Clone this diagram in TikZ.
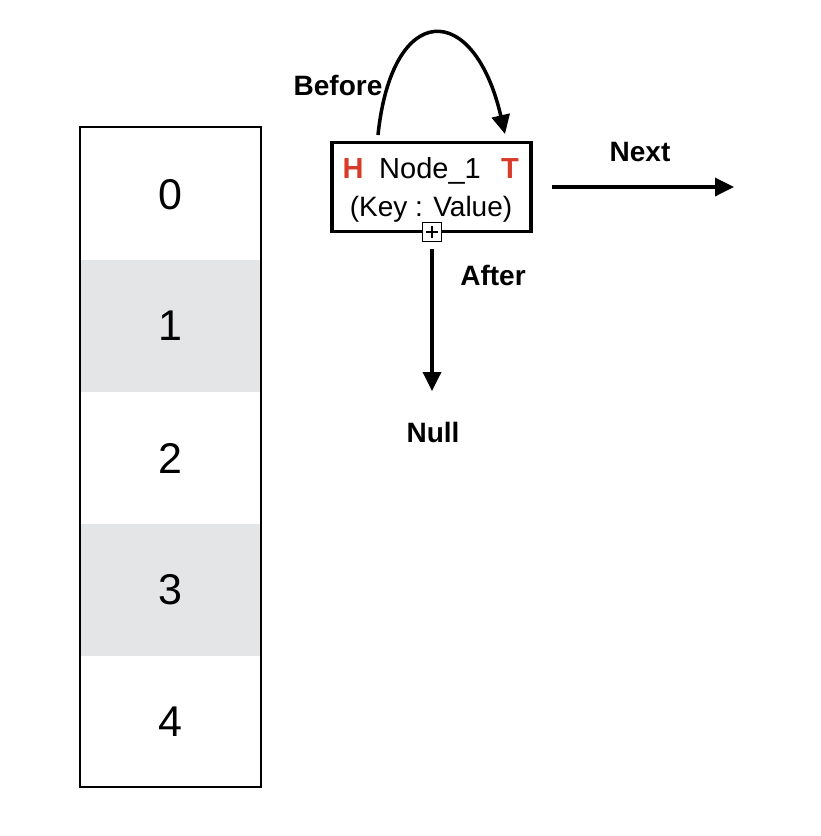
\documentclass[tikz,border=0pt]{standalone}
\usepackage{fontspec}
\setmainfont{Liberation Sans}
\usetikzlibrary{arrows.meta,calc}
\definecolor{cellgray}{HTML}{E4E5E7}
\definecolor{hred}{HTML}{D83B2A}
\begin{document}
\begin{tikzpicture}[x=1pt,y=-1pt,
  cell/.style={minimum width=181pt,minimum height=132pt,inner sep=0pt,font=\fontsize{43}{48}\selectfont},
  lbl/.style={font=\fontsize{28}{32}\selectfont\bfseries},
  arr/.style={line width=3.5pt,-{Triangle[length=19pt,width=18pt]}}]
\useasboundingbox (0,0) rectangle (820,836);
% hash table cells
\node[cell] (c0) at (170.5,195) {0};
\node[cell,fill=cellgray] (c1) at (170.5,326) {1};
\node[cell] (c2) at (170.5,458) {2};
\node[cell,fill=cellgray] (c3) at (170.5,590) {3};
\node[cell] (c4) at (170.5,722) {4};
\draw[line width=2pt] (80,127) rectangle (261,787);
% node box
\node[draw,line width=3.5pt,minimum width=199pt,minimum height=89pt,inner sep=0pt] (box) at (431.5,187) {};
\node[font=\fontsize{29}{33}\selectfont] (name) at (430,171) {Node\_1};
\node[font=\fontsize{29}{33}\selectfont\bfseries,text=hred] (H) at (353,169) {H};
\node[font=\fontsize{29}{33}\selectfont\bfseries,text=hred] (T) at (510,169) {T};
\node[font=\fontsize{28}{32}\selectfont] (kv) at (431,209) {(Key : Value)};
\node[draw,fill=white,line width=1.5pt,minimum size=19pt,inner sep=0pt] (plus) at (432,232) {};
\draw[line width=1.5pt] ($(plus.center)+(-6,0)$) -- ($(plus.center)+(6,0)$);
\draw[line width=1.5pt] ($(plus.center)+(0,-6)$) -- ($(plus.center)+(0,6)$);
% labels
\node[lbl] (before) at (338,85) {Before};
\node[lbl] (next) at (640,152) {Next};
\node[lbl] (after) at (493,275) {After};
\node[lbl] (null) at (433,432) {Null};
% connectors
\coordinate (bs) at (378,135);
\coordinate (be) at (505,134);
\draw[arr] (bs) .. controls (392,0) and (474,0) .. (be);
\coordinate (ns) at (552,187);
\coordinate (ne) at (734,187);
\draw[arr] (ns) -- (ne);
\coordinate (as) at (432,249);
\coordinate (ae) at (432,391);
\draw[arr] (as) -- (ae);
\end{tikzpicture}
\end{document}
